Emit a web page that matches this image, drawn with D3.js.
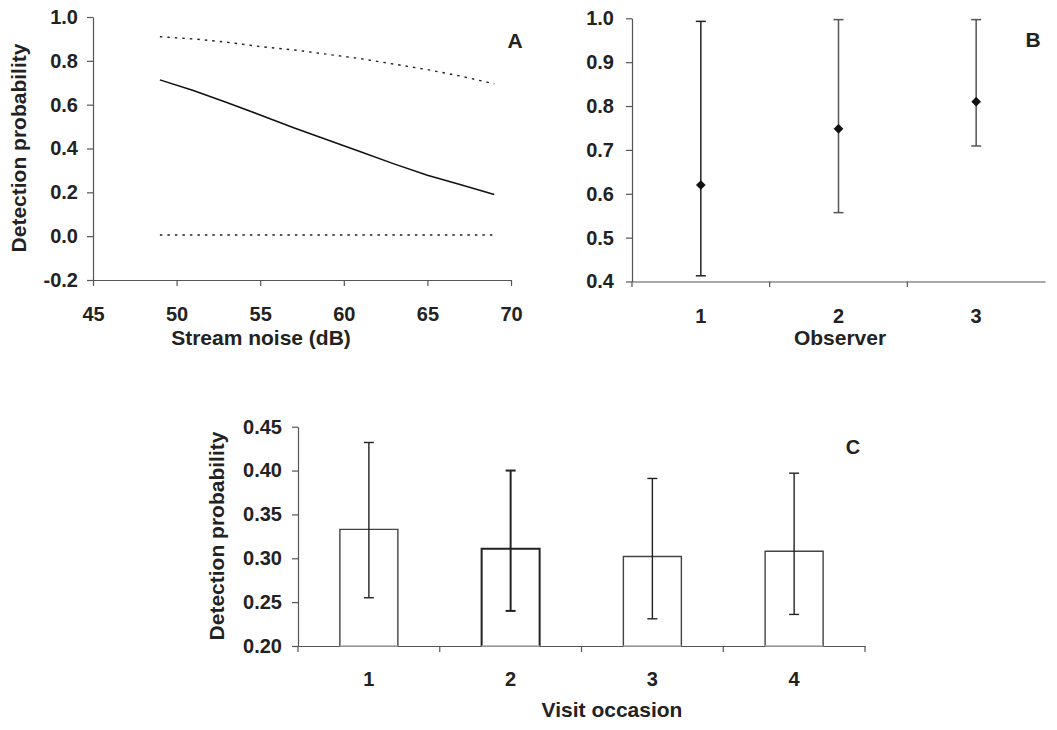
<!DOCTYPE html>
<html>
<head>
<meta charset="utf-8">
<script src="https://cdn.jsdelivr.net/npm/d3@7"></script>
<style>
  body { margin: 0; background: #fff; }
  svg text { font-family: "Liberation Sans", Arial, sans-serif; font-weight: bold; fill: #222; }
  .axis path, .axis line { stroke: #555; stroke-width: 1.2; }
</style>
</head>
<body>
<svg id="chart" width="1057" height="730"></svg>
<script>
// Panel A: detection probability vs stream noise
const noiseDb = [49, 51, 53, 55, 57, 59, 61, 63, 65, 67, 69];
const noiseEst = [0.713, 0.665, 0.61, 0.553, 0.495, 0.44, 0.385, 0.33, 0.278, 0.235, 0.19];
const noiseUpper = [0.91, 0.90, 0.885, 0.865, 0.85, 0.83, 0.81, 0.785, 0.76, 0.73, 0.695];
const noiseLower = [0.005, 0.005, 0.005, 0.005, 0.005, 0.005, 0.005, 0.005, 0.005, 0.005, 0.005];
const aTicksY = [-0.2, 0, 0.2, 0.4, 0.6, 0.8, 1.0];
const aTicksX = [45, 50, 55, 60, 65, 70];

// Panel B: observer
const observers = ['1', '2', '3'];
const obsEst = [0.62, 0.748, 0.81];
const obsLow = [0.413, 0.557, 0.709];
const obsHigh = [0.993, 0.997, 0.997];
const bTicksY = [0.4, 0.5, 0.6, 0.7, 0.8, 0.9, 1.0];

// Panel C: visit occasion
const visits = ['1', '2', '3', '4'];
const visitEst = [0.333, 0.311, 0.302, 0.308];
const visitLow = [0.255, 0.240, 0.231, 0.236];
const visitHigh = [0.432, 0.400, 0.391, 0.397];
const cTicksY = [0.20, 0.25, 0.30, 0.35, 0.40, 0.45];

const svg = d3.select('#chart');
const fmt1 = d => d3.format('.1f')(d).replace('\u2212', '-');
const fmt2 = d3.format('.2f');
const tickFont = '20px';

// ---------- A ----------
const xA = d3.scaleLinear().domain([45, 70]).range([93, 511]);
const yA = d3.scaleLinear().domain([-0.2, 1.0]).range([280, 17]);

const gA = svg.append('g');
gA.append('g').attr('class', 'axis')
    .attr('transform', 'translate(93,0)')
    .call(d3.axisLeft(yA).tickValues(aTicksY).tickFormat(fmt1).tickSize(6).tickPadding(9).tickSizeOuter(0))
    .call(g => g.selectAll('text').style('font-size', tickFont));
gA.append('g').attr('class', 'axis')
    .attr('transform', 'translate(0,280)')
    .call(d3.axisBottom(xA).tickValues(aTicksX).tickSize(6).tickPadding(21).tickSizeOuter(0))
    .call(g => g.selectAll('text').style('font-size', tickFont));

const lineA = d3.line().x((d, i) => xA(noiseDb[i])).y(d => yA(d));
gA.append('path').datum(noiseEst).attr('d', lineA)
    .attr('fill', 'none').attr('stroke', '#111').attr('stroke-width', 1.5);
[noiseUpper, noiseLower].forEach(s => {
    gA.append('path').datum(s).attr('d', lineA)
        .attr('fill', 'none').attr('stroke', '#222').attr('stroke-width', 1.4)
        .attr('stroke-dasharray', '2.5,5');
});

gA.append('text').attr('x', 261).attr('y', 345).attr('text-anchor', 'middle')
    .style('font-size', '21px').text('Stream noise (dB)');
gA.append('text').attr('transform', 'translate(26,148) rotate(-90)').attr('text-anchor', 'middle')
    .style('font-size', '21px').text('Detection probability');
gA.append('text').attr('x', 515).attr('y', 48).attr('text-anchor', 'middle')
    .style('font-size', '21px').text('A');

// ---------- B ----------
const xB = d3.scaleBand().domain(observers).range([632, 1045]);
const yB = d3.scaleLinear().domain([0.4, 1.0]).range([281.5, 18.3]);

const gB = svg.append('g');
gB.append('g').attr('class', 'axis')
    .attr('transform', 'translate(632,0)')
    .call(d3.axisLeft(yB).tickValues(bTicksY).tickFormat(fmt1).tickSize(6).tickPadding(12).tickSizeOuter(0))
    .call(g => g.selectAll('text').style('font-size', tickFont));
gB.append('g').attr('class', 'axis')
    .attr('transform', 'translate(0,281.5)')
    .call(d3.axisBottom(xB).tickSize(0).tickPadding(27).tickSizeOuter(0))
    .call(g => g.selectAll('text').style('font-size', tickFont));
// tick marks at category boundaries
gB.selectAll('.bnd').data(observers.slice(1)).enter().append('line')
    .attr('x1', d => xB(d)).attr('x2', d => xB(d))
    .attr('y1', 281.5).attr('y2', 287).attr('stroke', '#555').attr('stroke-width', 1.2);
gB.append('line').attr('x1', 632).attr('x2', 632).attr('y1', 281.5).attr('y2', 287)
    .attr('stroke', '#555').attr('stroke-width', 1.2);

const bColors = ['#222', '#555', '#555'];
const capB = 5;
observers.forEach((o, i) => {
    const cx = xB(o) + xB.bandwidth() / 2;
    const g = gB.append('g').attr('stroke', bColors[i]).attr('stroke-width', 1.5);
    g.append('line').attr('x1', cx).attr('x2', cx).attr('y1', yB(obsLow[i])).attr('y2', yB(obsHigh[i]));
    g.append('line').attr('x1', cx - capB).attr('x2', cx + capB).attr('y1', yB(obsLow[i])).attr('y2', yB(obsLow[i]));
    g.append('line').attr('x1', cx - capB).attr('x2', cx + capB).attr('y1', yB(obsHigh[i])).attr('y2', yB(obsHigh[i]));
    gB.append('path').attr('d', d3.symbol(d3.symbolDiamond2, 60)())
        .attr('transform', `translate(${cx},${yB(obsEst[i])})`).attr('fill', '#111');
});

gB.append('text').attr('x', 840).attr('y', 345).attr('text-anchor', 'middle')
    .style('font-size', '21px').text('Observer');
gB.append('text').attr('x', 1033).attr('y', 47).attr('text-anchor', 'middle')
    .style('font-size', '21px').text('B');

// ---------- C ----------
const xC = d3.scaleBand().domain(visits).range([298, 865]);
const yC = d3.scaleLinear().domain([0.20, 0.45]).range([646, 426.7]);
const barW = 58;

const gC = svg.append('g');
gC.append('g').attr('class', 'axis')
    .attr('transform', 'translate(298,0)')
    .call(d3.axisLeft(yC).tickValues(cTicksY).tickFormat(fmt2).tickSize(6).tickPadding(10).tickSizeOuter(0))
    .call(g => g.selectAll('text').style('font-size', tickFont));
gC.append('g').attr('class', 'axis')
    .attr('transform', 'translate(0,646)')
    .call(d3.axisBottom(xC).tickSize(0).tickPadding(26).tickSizeOuter(0))
    .call(g => g.selectAll('text').style('font-size', tickFont));
gC.selectAll('.bnd').data(visits.slice(1).concat(['end'])).enter().append('line')
    .attr('x1', d => d === 'end' ? xC.range()[1] : xC(d))
    .attr('x2', d => d === 'end' ? xC.range()[1] : xC(d))
    .attr('y1', 646).attr('y2', 652).attr('stroke', '#555').attr('stroke-width', 1.2);
gC.append('line').attr('x1', 298).attr('x2', 298).attr('y1', 646).attr('y2', 652)
    .attr('stroke', '#555').attr('stroke-width', 1.2);

visits.forEach((v, i) => {
    const cx = xC(v) + xC.bandwidth() / 2;
    const x0 = cx - barW / 2, x1 = cx + barW / 2;
    const yTop = yC(visitEst[i]), y0 = yC(0.20);
    gC.append('rect').attr('x', x0).attr('y', yTop).attr('width', barW).attr('height', y0 - yTop)
        .attr('fill', '#fff');
    gC.append('path').attr('d', `M${x0},${y0}V${yTop}H${x1}V${y0}`)
        .attr('fill', 'none').attr('stroke', i === 1 ? '#222' : '#444').attr('stroke-width', i === 1 ? 2 : 1.4);
    gC.append('line').attr('x1', x0).attr('x2', x1).attr('y1', y0).attr('y2', y0)
        .attr('stroke', '#aaa').attr('stroke-width', 1.4);
    const g = gC.append('g').attr('stroke', '#222').attr('stroke-width', i === 1 ? 2 : 1.4);
    g.append('line').attr('x1', cx).attr('x2', cx).attr('y1', yC(visitLow[i])).attr('y2', yC(visitHigh[i]));
    g.append('line').attr('x1', cx - 5).attr('x2', cx + 5).attr('y1', yC(visitLow[i])).attr('y2', yC(visitLow[i]));
    g.append('line').attr('x1', cx - 5).attr('x2', cx + 5).attr('y1', yC(visitHigh[i])).attr('y2', yC(visitHigh[i]));
});

gC.append('text').attr('x', 612).attr('y', 717).attr('text-anchor', 'middle')
    .style('font-size', '21px').text('Visit occasion');
gC.append('text').attr('transform', 'translate(224,536) rotate(-90)').attr('text-anchor', 'middle')
    .style('font-size', '21px').text('Detection probability');
gC.append('text').attr('x', 853).attr('y', 454).attr('text-anchor', 'middle')
    .style('font-size', '20px').text('C');
</script>
</body>
</html>
